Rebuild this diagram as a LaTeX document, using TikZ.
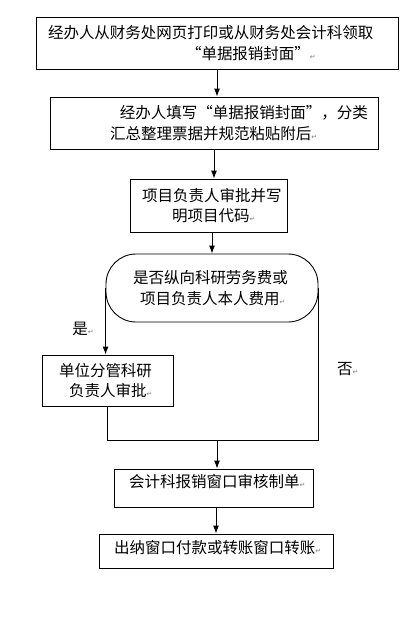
\documentclass[tikz,border=0pt]{standalone}
\usepackage{fontspec}
\newfontfamily\cjk{Noto Sans CJK SC}
\newfontfamily\symfont{DejaVu Sans}
\newcommand\retmark{{\symfont\fontsize{7}{7}\selectfont\color{gray}↵}}
\usetikzlibrary{arrows.meta}
\tikzset{
  stepbox/.style={draw, line width=0.9pt, inner xsep=0pt, inner ysep=0pt, align=left,
    font=\cjk\fontsize{15.5}{20.5}\selectfont},
  flow/.style={line width=0.9pt},
}
\begin{document}
\begin{tikzpicture}[x=1pt, y=-1pt, >={Latex[length=8pt,width=6pt]}]
\useasboundingbox (0,0) rectangle (413,619);
\node[stepbox, text width=362pt, minimum height=52pt] (collect) at (217,43)
  {\hspace*{12pt}经办人从财务处网页打印或从财务处会计科领取\\\hspace*{150pt}“单据报销封面”\retmark};
\node[stepbox, text width=328pt, minimum height=52pt] (fill) at (214,123)
  {\hspace*{70pt}经办人填写“单据报销封面”，分类\\\hspace*{60pt}汇总整理票据并规范粘贴附后\retmark};
\node[stepbox, text width=157pt, minimum height=53pt] (lead) at (208.5,205.5)
  {\hspace*{12pt}项目负责人审批并写\\\hspace*{42pt}明项目代码\retmark};
\node[stepbox, text width=212pt, minimum height=68pt, rounded corners=30pt] (ask) at (212,288)
  {\hspace*{27pt}是否纵向科研劳务费或\\\hspace*{34pt}项目负责人本人费用\retmark};
\node[stepbox, text width=131pt, minimum height=51pt] (unit) at (107.5,380.5)
  {\hspace*{17pt}单位分管科研\\\hspace*{27pt}负责人审批\retmark};
\node[stepbox, text width=199pt, minimum height=38pt, text depth=14pt] (acct) at (213.5,488)
  {\hspace*{15pt}会计科报销窗口审核制单\retmark};
\node[stepbox, text width=234pt, minimum height=34pt, text depth=9pt] (pay) at (216,551)
  {\hspace*{15pt}出纳窗口付款或转账窗口转账\retmark};
\coordinate (merge) at (217,440);

\draw[flow, ->] (collect.south) -- (collect.south |- fill.north);
\draw[flow, ->] (fill.south) -- (fill.south |- lead.north);
\draw[flow, ->] (lead.south -| ask.north) -- (ask.north);
\draw[flow, ->] (ask.west) -- node[left, pos=.62, xshift=-8pt, font=\cjk\fontsize{15.5}{18}\selectfont]{是\retmark} (ask.west |- unit.north);
\draw[flow] (ask.east) -- node[right, pos=.53, xshift=15pt, font=\cjk\fontsize{15.5}{18}\selectfont]{否\retmark} (ask.east |- merge) -- (merge);
\draw[flow] (unit.south) -- (unit.south |- merge) -- (merge);
\draw[flow, ->] (merge) -- (merge |- acct.north);
\draw[flow, ->] (pay.north |- acct.south) -- (pay.north);

\end{tikzpicture}
\end{document}
